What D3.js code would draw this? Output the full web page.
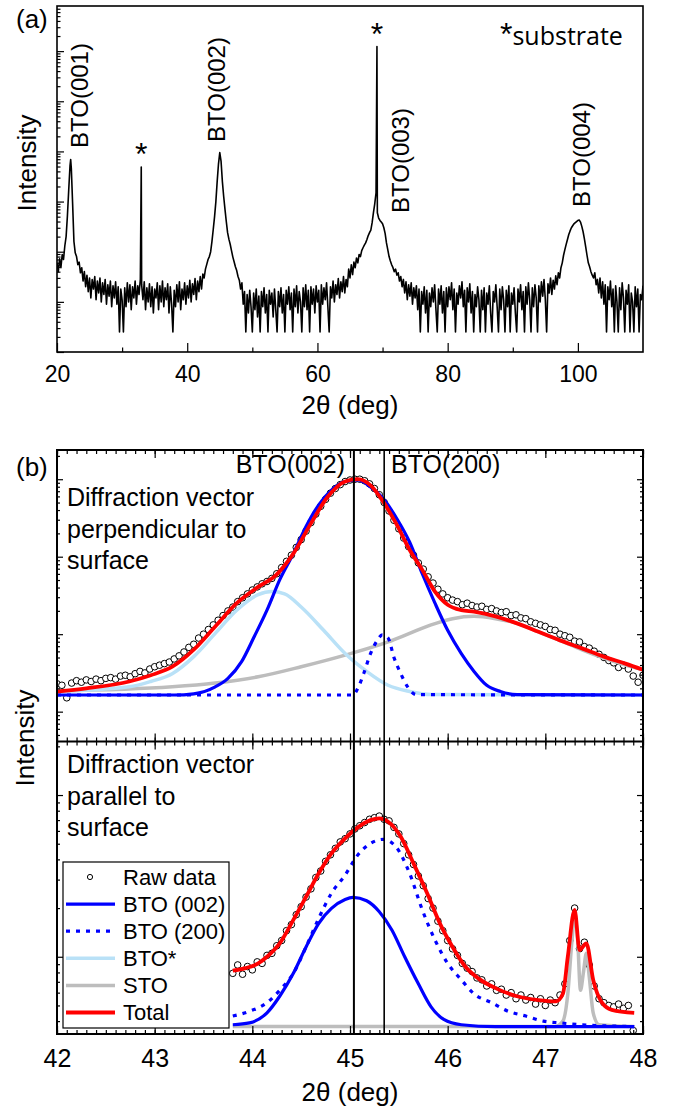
<!DOCTYPE html>
<html>
<head>
<meta charset="utf-8">
<script src="https://cdn.jsdelivr.net/npm/d3@7"></script>
<style>
  body { margin: 0; background: #fff; }
  svg { display: block; }
  text { font-family: "Liberation Sans", Arial, sans-serif; fill: #000; }
</style>
</head>
<body>
<div id="chart"></div>
<script>
// ---------- data: panel (a), wide 2theta scan (counts, log axis) ----------
const scanStart = 20;
const scanStep = 0.2;
const scanCounts = [
  60, 40, 72, 48, 88, 70, 130, 200, 520, 1700,
  5200, 4600, 900, 160, 95, 80, 55, 62, 38, 48,
  26, 40, 20, 34, 16, 30, 12, 28, 18, 32,
  11, 26, 15, 30, 10, 24, 14, 28, 9, 22,
  13, 26, 8, 21, 12, 25, 9, 20, 2.5, 18,
  11, 2.5, 19, 8, 24, 10, 22, 7, 20, 12,
  26, 9, 21, 14, 28, 22, 11, 25, 7, 19,
  10, 23, 8, 20, 6, 18, 12, 24, 7, 21,
  10, 26, 8, 19, 11, 23, 6, 20, 9, 2.5,
  17, 8, 22, 10, 25, 7, 18, 11, 24, 9,
  21, 12, 27, 10, 23, 14, 29, 11, 26, 16,
  32, 18, 36, 30, 45, 56, 70, 80, 100, 160,
  280, 500, 1000, 2500, 5600, 9500, 6300, 2500, 1260, 700,
  400, 240, 178, 141, 105, 79, 63, 50, 42, 32,
  27, 18, 24, 9, 16, 2.5, 14, 6, 17, 8,
  2.5, 15, 7, 18, 5, 13, 2.5, 16, 8, 19,
  6, 14, 2.5, 17, 9, 15, 5, 18, 7, 2.5,
  16, 8, 19, 6, 14, 2.5, 17, 9, 20, 7,
  15, 2.5, 18, 8, 21, 6, 16, 10, 2.5, 19,
  8, 22, 7, 17, 2.5, 20, 9, 18, 6, 21,
  10, 17, 2.5, 22, 9, 19, 11, 24, 8, 2.5,
  20, 12, 26, 10, 22, 14, 29, 12, 25, 16,
  32, 15, 28, 20, 45, 30, 55, 35, 62, 48,
  75, 60, 88, 80, 105, 120, 135, 150, 175, 210,
  240, 270, 380, 600, 900, 1500, 600, 470, 420, 390,
  360, 300, 230, 150, 110, 80, 65, 55, 48, 40,
  45, 34, 38, 26, 32, 20, 28, 15, 25, 11,
  22, 13, 24, 9, 19, 12, 21, 7, 18, 2.5,
  16, 9, 20, 6, 17, 2.5, 15, 8, 19, 10,
  22, 7, 2.5, 18, 9, 21, 6, 16, 2.5, 19,
  8, 20, 11, 24, 7, 18, 2.5, 15, 9, 21,
  12, 25, 8, 17, 2.5, 19, 10, 23, 6, 16,
  2.5, 14, 8, 20, 11, 2.5, 17, 7, 19, 2.5,
  15, 9, 21, 6, 2.5, 16, 10, 22, 8, 2.5,
  18, 7, 20, 11, 2.5, 17, 8, 21, 2.5, 15,
  9, 19, 6, 2.5, 18, 10, 22, 7, 16, 2.5,
  20, 9, 24, 11, 2.5, 19, 8, 22, 12, 2.5,
  21, 10, 25, 13, 28, 11, 2.5, 23, 15, 30,
  14, 27, 18, 33, 22, 38, 30, 48, 60, 85,
  110, 140, 175, 220, 260, 300, 330, 360, 380, 400,
  420, 430, 390, 320, 250, 180, 125, 85, 60, 50,
  40, 34, 30, 38, 22, 28, 15, 30, 12, 25,
  9, 22, 2.5, 20, 11, 26, 8, 18, 2.5, 21,
  10, 2.5, 19, 7, 24, 12, 2.5, 17, 9, 22,
  2.5, 15, 10, 2.5, 20, 8, 18, 2.5, 14, 11,
  21
];
// very narrow tops that fall between scan points
const scanSpikes = [[22.1, 6900], [32.94, 4900], [69.14, 1230000]];
const scanXTicks = [20, 40, 60, 80, 100];

// ---------- data: panel (b), fits around BTO(002)/(200) ----------
const rawStep = 0.05;
// diffraction vector perpendicular to surface
const perpRawStart = 42.0;
const perpRaw = [
  229, 219, 151, 234, 251, 240, 257, 245, 263, 251,
  269, 275, 263, 288, 295, 282, 309, 331, 316, 355,
  380, 398, 417, 437, 479, 525, 589, 676, 741, 891,
  1000, 1148, 1318, 1514, 1738, 1995, 2239, 2630, 2951, 3311,
  3715, 4074, 4467, 4786, 5248, 6026, 7244, 8710, 10470, 13180,
  16600, 21380, 27540, 35480, 44670, 54950, 66070, 75860, 85110, 93330,
  97720, 100000, 100000, 95500, 87100, 75860, 63100, 50120, 38900, 29510,
  22910, 17380, 13490, 10470, 8318, 6918, 5495, 4571, 3802, 3311,
  2951, 2754, 2630, 2399, 2512, 2344, 2239, 2291, 2089, 2138,
  1995, 1905, 1950, 1738, 1778, 1622, 1585, 1445, 1380, 1318,
  1259, 1148, 1122, 1000, 955, 912, 813, 794, 692, 661,
  603, 550, 501, 457, 427, 372, 398, 355, 288, 240,
  295
];
const perpBTO002 = [
  [42.0, 164], [43.2, 164], [43.4, 170], [43.62, 209], [43.75, 269], [43.89, 442],
  [44.02, 933], [44.15, 2042], [44.28, 5012], [44.42, 10960], [44.55, 24550],
  [44.68, 46770], [44.81, 72440], [44.95, 93330], [45.08, 97720], [45.21, 79430],
  [45.34, 56230], [45.48, 30900], [45.61, 15490], [45.74, 6026], [45.87, 2512],
  [46.0, 1122], [46.14, 562], [46.27, 331], [46.4, 219], [46.54, 182], [46.71, 166], [48.0, 164]
];
const perpBTO200 = [
  [42.0, 164], [45.03, 164], [45.08, 200], [45.14, 309], [45.21, 562], [45.28, 832],
  [45.33, 977], [45.39, 891], [45.45, 501], [45.52, 309], [45.59, 209], [45.68, 166], [48.0, 164]
];
const perpBTOstar = [
  [42.0, 182], [42.74, 209], [42.96, 245], [43.18, 309], [43.4, 513], [43.62, 1023],
  [43.84, 2042], [44.06, 3236], [44.2, 3548], [44.33, 3311], [44.5, 2239], [44.73, 1122],
  [44.95, 562], [45.17, 331], [45.39, 219], [45.61, 182], [45.83, 166], [48.0, 164]
];
const perpSTO = [
  [42.0, 185], [43.18, 209], [43.62, 234], [44.06, 282], [44.5, 380], [44.95, 537],
  [45.39, 794], [45.61, 1023], [45.83, 1318], [46.05, 1585], [46.27, 1698], [46.49, 1585],
  [46.71, 1380], [46.93, 1072], [47.15, 832], [47.37, 631], [47.6, 490], [47.82, 398], [48.0, 347]
];
const perpTotal = [
  [42.0, 182], [42.3, 200], [42.74, 245], [42.96, 295], [43.18, 380], [43.4, 631],
  [43.62, 1259], [43.84, 2512], [44.06, 4074], [44.24, 5754], [44.42, 10960], [44.6, 26920],
  [44.77, 58880], [44.95, 93330], [45.08, 100000], [45.21, 83180], [45.34, 51290],
  [45.48, 25700], [45.61, 12300], [45.74, 6761], [45.87, 3548], [46.0, 2399], [46.14, 2042],
  [46.27, 1950], [46.49, 1698], [46.71, 1380], [46.93, 1072], [47.15, 832], [47.37, 661],
  [47.6, 513], [47.82, 417], [48.0, 347]
];

// diffraction vector parallel to surface
const parRawStart = 43.8;
const parRaw = [
  79, 89, 78, 87, 83, 93, 91, 102, 105, 117,
  126, 145, 158, 182, 204, 234, 263, 309, 339, 389,
  427, 468, 513, 537, 575, 617, 646, 676, 708, 724,
  741, 708, 692, 631, 575, 501, 427, 372, 316, 275,
  229, 200, 166, 145, 126, 112, 102, 91, 85, 81,
  74, 72, 66, 68, 62, 63, 58, 60, 55, 58,
  54, 56, 51, 55, 50, 54, 52, 58, 68, 126,
  200, 112, 123, 89, 66, 55, 52, 50, 49, 51,
  48, 50, 35
];
const parBTO002 = [
  [43.8, 38], [43.97, 39], [44.15, 45], [44.28, 57], [44.42, 79], [44.55, 115],
  [44.68, 161], [44.81, 199], [44.95, 226], [45.03, 233], [45.17, 222], [45.3, 190],
  [45.43, 146], [45.56, 100], [45.7, 68], [45.83, 49], [45.96, 41], [46.14, 38],
  [46.49, 37], [47.91, 37]
];
const parBTO200 = [
  [43.8, 43], [43.97, 46], [44.15, 52], [44.28, 62], [44.42, 79], [44.55, 115],
  [44.68, 173], [44.81, 247], [44.95, 320], [45.08, 426], [45.21, 502], [45.34, 532],
  [45.47, 479], [45.61, 328], [45.74, 195], [45.87, 127], [46.0, 91], [46.14, 72],
  [46.27, 59], [46.45, 52], [46.62, 46], [46.8, 43], [46.98, 40], [47.15, 39],
  [47.38, 38], [47.91, 37]
];
const parSTO = [
  [43.8, 37], [47.1, 37], [47.18, 40], [47.23, 59], [47.27, 120], [47.3, 177],
  [47.33, 130], [47.36, 62], [47.39, 80], [47.42, 105], [47.45, 75], [47.49, 45],
  [47.55, 38], [47.91, 37]
];
const parTotal = [
  [43.8, 82], [43.93, 85], [44.06, 91], [44.15, 100], [44.28, 121], [44.42, 169],
  [44.55, 235], [44.68, 328], [44.81, 436], [44.95, 540], [45.08, 631], [45.21, 700],
  [45.3, 717], [45.39, 684], [45.52, 552], [45.65, 378], [45.79, 247], [45.92, 161],
  [46.05, 115], [46.18, 87], [46.32, 73], [46.49, 64], [46.71, 57], [46.93, 54],
  [47.11, 53], [47.18, 59], [47.23, 100], [47.3, 195], [47.35, 110], [47.42, 121],
  [47.49, 72], [47.58, 52], [47.68, 47], [47.91, 45]
];

const peakPositions = [45.04, 45.35];
const fitXTicks = [42, 43, 44, 45, 46, 47, 48];
const legendLabels = ["Raw data", "BTO (002)", "BTO (200)", "BTO*", "STO", "Total"];

// ---------- styles ----------
const colors = {
  bto002: "#0000ff",
  bto200: "#0000ff",
  btoStar: "#b9e1f7",
  sto: "#bdbdbd",
  total: "#ff0000",
};

const width = 676;
const height = 1111;

const svg = d3
  .select("#chart")
  .append("svg")
  .attr("width", width)
  .attr("height", height);

// split log ticks into decades and the in-between minor ticks
function logTickSets(scale) {
  const all = scale.ticks();
  const isDecade = (v) => Math.abs(Math.log10(v) - Math.round(Math.log10(v))) < 1e-6;
  return { major: all.filter(isDecade), minor: all.filter((v) => !isDecade(v)) };
}

// inward ticks without labels, domain line removed (frame drawn separately)
function tickRow(axis, values, size, tx, ty) {
  svg
    .append("g")
    .attr("transform", `translate(${tx},${ty})`)
    .call(axis.tickValues(values).tickSize(-size).tickSizeOuter(0).tickFormat(""))
    .call((g) => g.select(".domain").remove())
    .selectAll("line")
    .attr("stroke", "#000")
    .attr("stroke-width", 1.2);
}

function tickLabels(axis, values, tx, ty, fontSize, pad) {
  svg
    .append("g")
    .attr("transform", `translate(${tx},${ty})`)
    .call(axis.tickValues(values).tickSize(0).tickPadding(pad).tickFormat(d3.format("d")))
    .call((g) => g.select(".domain").remove())
    .selectAll("text")
    .attr("font-family", '"Liberation Sans", Arial, sans-serif')
    .attr("font-size", fontSize)
    .attr("fill", "#000");
}

function vText(x, y, str, size, anchor) {
  svg
    .append("text")
    .attr("transform", `translate(${x},${y}) rotate(-90)`)
    .attr("text-anchor", anchor || "start")
    .attr("font-size", size)
    .text(str);
}

// ================= panel (a) =================
const aBox = { left: 57, right: 643, top: 6, bottom: 352 };
const xA = d3.scaleLinear().domain([20, 110]).range([aBox.left, aBox.right]);
const yA = d3.scaleLog().domain([1, Math.pow(10, 6.9)]).range([aBox.bottom, aBox.top]);

svg
  .append("clipPath")
  .attr("id", "clip-a")
  .append("rect")
  .attr("x", aBox.left)
  .attr("y", aBox.top)
  .attr("width", aBox.right - aBox.left)
  .attr("height", aBox.bottom - aBox.top);

const scanPoints = scanCounts
  .map((c, i) => [scanStart + i * scanStep, c])
  .concat(scanSpikes)
  .sort((a, b) => a[0] - b[0]);

svg
  .append("path")
  .datum(scanPoints)
  .attr("clip-path", "url(#clip-a)")
  .attr("fill", "none")
  .attr("stroke", "#000")
  .attr("stroke-width", 1.6)
  .attr("stroke-linejoin", "round")
  .attr("d", d3.line().x((d) => xA(d[0])).y((d) => yA(d[1])));

// ticks: left log axis, bottom 2theta axis
const aY = logTickSets(yA);
tickRow(d3.axisLeft(yA), aY.major, 7, aBox.left, 0);
tickRow(d3.axisLeft(yA), aY.minor, 3.5, aBox.left, 0);
tickRow(d3.axisBottom(xA), scanXTicks, 9, 0, aBox.bottom);
tickRow(d3.axisBottom(xA), [30, 50, 70, 90], 4.5, 0, aBox.bottom);
tickLabels(d3.axisBottom(xA), scanXTicks, 0, aBox.bottom, 23, 14);

svg
  .append("rect")
  .attr("x", aBox.left)
  .attr("y", aBox.top)
  .attr("width", aBox.right - aBox.left)
  .attr("height", aBox.bottom - aBox.top)
  .attr("fill", "none")
  .attr("stroke", "#000")
  .attr("stroke-width", 1.6);

// peak labels
vText(xA(24.7), 148, "BTO(001)", 24);
vText(xA(45.8), 142, "BTO(002)", 24);
vText(xA(74.0), 213, "BTO(003)", 24);
vText(xA(101.9), 207, "BTO(004)", 24);

svg.append("text").attr("x", xA(32.94)).attr("y", 165).attr("text-anchor", "middle")
  .attr("font-size", 32).text("*");
svg.append("text").attr("x", xA(69.14)).attr("y", 45).attr("text-anchor", "middle")
  .attr("font-size", 32).text("*");
const subst = svg.append("text").attr("x", 500).attr("y", 45);
subst.append("tspan").attr("font-size", 32).text("*");
subst.append("tspan").attr("font-size", 25)
  .attr("font-family", '"Open Sans", "Liberation Sans", sans-serif').text("substrate");

svg.append("text").attr("x", 16).attr("y", 28)
  .attr("font-family", '"Liberation Serif", "Times New Roman", serif')
  .attr("font-size", 26).text("(a)");
vText(36, 163, "Intensity", 26, "middle");
svg.append("text").attr("x", (aBox.left + aBox.right) / 2).attr("y", 414)
  .attr("text-anchor", "middle").attr("font-size", 26).text("2θ (deg)");

// ================= panel (b) =================
const bBox = { left: 57, right: 643, top: 450, mid: 741.5, bottom: 1034 };
const xB = d3.scaleLinear().domain([42, 48]).range([bBox.left, bBox.right]);
const yTop = d3.scaleLog().domain([41.2, 238300]).range([bBox.mid, bBox.top]);
const yBot = d3.scaleLog().domain([33.3, 2143]).range([bBox.bottom, bBox.mid]);

function clipFor(id, y0, y1) {
  svg
    .append("clipPath")
    .attr("id", id)
    .append("rect")
    .attr("x", bBox.left)
    .attr("y", y0)
    .attr("width", bBox.right - bBox.left)
    .attr("height", y1 - y0);
}
clipFor("clip-top", bBox.top, bBox.mid);
clipFor("clip-bot", bBox.mid, bBox.bottom);

function drawFits(y, clip, raw, rawStart, curves) {
  const g = svg.append("g").attr("clip-path", `url(#${clip})`);
  g.selectAll("circle")
    .data(raw)
    .join("circle")
    .attr("cx", (d, i) => xB(rawStart + i * rawStep))
    .attr("cy", (d) => y(d))
    .attr("r", 3.3)
    .attr("fill", "#fff")
    .attr("stroke", "#000")
    .attr("stroke-width", 1);

  const line = d3
    .line()
    .curve(d3.curveMonotoneX)
    .x((d) => xB(d[0]))
    .y((d) => y(d[1]));

  curves.forEach((c) => {
    g.append("path")
      .datum(c.data)
      .attr("fill", "none")
      .attr("stroke", c.color)
      .attr("stroke-width", c.width)
      .attr("stroke-dasharray", c.dash || null)
      .attr("d", line);
  });
}

drawFits(yTop, "clip-top", perpRaw, perpRawStart, [
  { data: perpSTO, color: colors.sto, width: 3.5 },
  { data: perpBTOstar, color: colors.btoStar, width: 3.5 },
  { data: perpBTO200, color: colors.bto200, width: 3.2, dash: "4,6" },
  { data: perpBTO002, color: colors.bto002, width: 3.2 },
  { data: perpTotal, color: colors.total, width: 3.8 },
]);

drawFits(yBot, "clip-bot", parRaw, parRawStart, [
  { data: parSTO, color: colors.sto, width: 3.5 },
  { data: parBTO200, color: colors.bto200, width: 3.2, dash: "4,6" },
  { data: parBTO002, color: colors.bto002, width: 3.2 },
  { data: parTotal, color: colors.total, width: 3.8 },
]);

// reference peak positions across both panels
svg
  .selectAll(".peak-line")
  .data(peakPositions)
  .join("line")
  .attr("class", "peak-line")
  .attr("x1", (d) => xB(d))
  .attr("x2", (d) => xB(d))
  .attr("y1", bBox.top)
  .attr("y2", bBox.bottom)
  .attr("stroke", "#000")
  .attr("stroke-width", (d, i) => (i === 0 ? 2 : 1.6));

// ticks on all sides of both sub-panels
const minorX = d3.range(42, 48.001, 0.1).map((v) => +v.toFixed(1));
[
  [yTop, bBox.top, bBox.mid],
  [yBot, bBox.mid, bBox.bottom],
].forEach(([y, y0, y1]) => {
  const t = logTickSets(y);
  tickRow(d3.axisLeft(y), t.major, 6, bBox.left, 0);
  tickRow(d3.axisLeft(y), t.minor, 3, bBox.left, 0);
  tickRow(d3.axisRight(y), t.major, 6, bBox.right, 0);
  tickRow(d3.axisRight(y), t.minor, 3, bBox.right, 0);
  tickRow(d3.axisTop(xB), fitXTicks, 8, 0, y0);
  tickRow(d3.axisTop(xB), minorX, 4, 0, y0);
  tickRow(d3.axisBottom(xB), fitXTicks, 8, 0, y1);
  tickRow(d3.axisBottom(xB), minorX, 4, 0, y1);
});
tickLabels(d3.axisBottom(xB), fitXTicks, 0, bBox.bottom, 25, 15);

svg
  .append("rect")
  .attr("x", bBox.left)
  .attr("y", bBox.top)
  .attr("width", bBox.right - bBox.left)
  .attr("height", bBox.bottom - bBox.top)
  .attr("fill", "none")
  .attr("stroke", "#000")
  .attr("stroke-width", 2);
svg
  .append("line")
  .attr("x1", bBox.left)
  .attr("x2", bBox.right)
  .attr("y1", bBox.mid)
  .attr("y2", bBox.mid)
  .attr("stroke", "#000")
  .attr("stroke-width", 2);

// annotations
svg.append("text").attr("x", 345).attr("y", 473).attr("text-anchor", "end")
  .attr("font-size", 25).text("BTO(002)");
svg.append("text").attr("x", 391).attr("y", 473).attr("font-size", 25).text("BTO(200)");

function block(lines, x, y0) {
  lines.forEach((s, i) => {
    svg.append("text").attr("x", x).attr("y", y0 + i * 31.5).attr("font-size", 25).text(s);
  });
}
block(["Diffraction vector", "perpendicular to", "surface"], 67, 506);
block(["Diffraction vector", "parallel to", "surface"], 67, 773);

svg.append("text").attr("x", 16).attr("y", 476)
  .attr("font-family", '"Liberation Serif", "Times New Roman", serif')
  .attr("font-size", 26).text("(b)");
vText(34, 738, "Intensity", 26, "middle");
svg.append("text").attr("x", (bBox.left + bBox.right) / 2).attr("y", 1101)
  .attr("text-anchor", "middle").attr("font-size", 26).text("2θ (deg)");

// legend
const legend = svg.append("g").attr("transform", "translate(63,862)");
legend
  .append("rect")
  .attr("width", 166)
  .attr("height", 166)
  .attr("fill", "#fff")
  .attr("stroke", "#000")
  .attr("stroke-width", 1.2);

const legendStyle = [
  null,
  { color: colors.bto002, width: 3.2 },
  { color: colors.bto200, width: 3.2, dash: "4,6" },
  { color: colors.btoStar, width: 3.5 },
  { color: colors.sto, width: 3.5 },
  { color: colors.total, width: 3.8 },
];

const rows = legend
  .selectAll(".legend-row")
  .data(legendLabels)
  .join("g")
  .attr("class", "legend-row")
  .attr("transform", (d, i) => `translate(0,${15 + i * 27.1})`);

rows.each(function (d, i) {
  const row = d3.select(this);
  const st = legendStyle[i];
  if (!st) {
    row.append("circle").attr("cx", 27).attr("cy", 0).attr("r", 2.6)
      .attr("fill", "#fff").attr("stroke", "#000").attr("stroke-width", 1);
  } else {
    row.append("line").attr("x1", 3).attr("x2", 52).attr("y1", 0).attr("y2", 0)
      .attr("stroke", st.color).attr("stroke-width", st.width)
      .attr("stroke-dasharray", st.dash || null);
  }
  row.append("text").attr("x", 60).attr("y", 0).attr("dy", "0.36em")
    .attr("font-size", 22).text(d);
});
</script>
</body>
</html>
